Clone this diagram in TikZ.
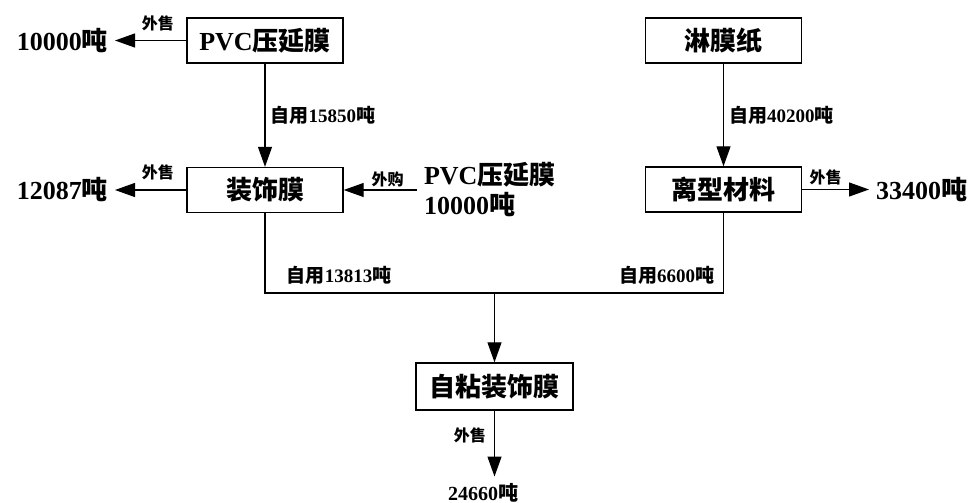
\documentclass[tikz,border=0pt]{standalone}
\usepackage{fontspec}
\setmainfont{Liberation Serif}
\newfontfamily\cjk{Noto Sans CJK SC}
\usetikzlibrary{arrows.meta}

\tikzset{
  boite/.style={draw,line width=0.7pt,minimum width=78pt,minimum height=22.5pt,
    inner sep=0pt,font=\fontsize{13}{15}\selectfont\bfseries},
  grand/.style={font=\fontsize{13}{15}\selectfont\bfseries},
  etiq/.style={font=\fontsize{9.5}{11}\selectfont\bfseries,inner sep=1pt},
  petit/.style={font=\fontsize{8}{9}\selectfont\bfseries,inner sep=1pt},
  trait/.style={line width=0.6pt},
  fleche/.style={line width=0.6pt,-{Triangle[length=10pt,width=7pt]}}
}

\begin{document}
\begin{tikzpicture}[x=0.5pt,y=-0.5pt]
\useasboundingbox (0,0) rectangle (974,503);
% les boites
\node[boite] (pvc) at (265,40.5) {PVC{\cjk 压延膜}};
\node[boite] (deco) at (265,190) {{\cjk 装饰膜}};
\node[boite] (lmz) at (723.5,40.5) {{\cjk 淋膜纸}};
\node[boite] (lx) at (723.5,189.5) {{\cjk 离型材料}};
\node[boite,minimum width=78.5pt,minimum height=23.5pt] (zn) at (494.5,386.5) {{\cjk 自粘装饰膜}};
% les quantites
\node[grand,anchor=east] (v1) at (115,40.5) {10000{\cjk 吨}};
\node[grand,anchor=east] (v2) at (115,190) {12087{\cjk 吨}};
\node[grand,anchor=west,align=left] (achat) at (417,190) {PVC{\cjk 压延膜}\\10000{\cjk 吨}};
\node[grand,anchor=west] (v3) at (869,189.5) {33400{\cjk 吨}};
\node[font=\fontsize{10}{12}\selectfont\bfseries] (v4) at (483,493) {24660{\cjk 吨}};
% les fleches
\draw[fleche] (pvc.west) -- node[petit,above=3.5pt,pos=0.4] {\cjk 外售} (v1.east);
\draw[fleche] (deco.west) -- node[petit,above=3.5pt,pos=0.4] {\cjk 外售} (v2.east);
\draw[fleche] (achat.west) -- node[petit,above=0pt,pos=0.4] {\cjk 外购} (deco.east);
\draw[fleche] (lx.east) -- node[petit,above=1pt,pos=0.35] {\cjk 外售} (v3.west);
\draw[fleche] (pvc) -- node[etiq,right=1.5pt] {{\cjk 自用}15850{\cjk 吨}} (deco);
\draw[fleche] (lmz) -- node[etiq,right=1.5pt] {{\cjk 自用}40200{\cjk 吨}} (lx);
% vers le film autocollant
\coordinate (j) at (494.5,293);
\draw[trait] (deco.south) |- (j) -| (lx.south);
\draw[fleche] (j) -- (zn.north);
\node[etiq] (u1) at (339,275) {{\cjk 自用}13813{\cjk 吨}};
\node[etiq] (u2) at (666.5,275) {{\cjk 自用}6600{\cjk 吨}};
\draw[fleche] (zn.south) -- node[petit,left=3pt,pos=0.38] {\cjk 外售} (zn.south |- v4.north);
\end{tikzpicture}
\end{document}
